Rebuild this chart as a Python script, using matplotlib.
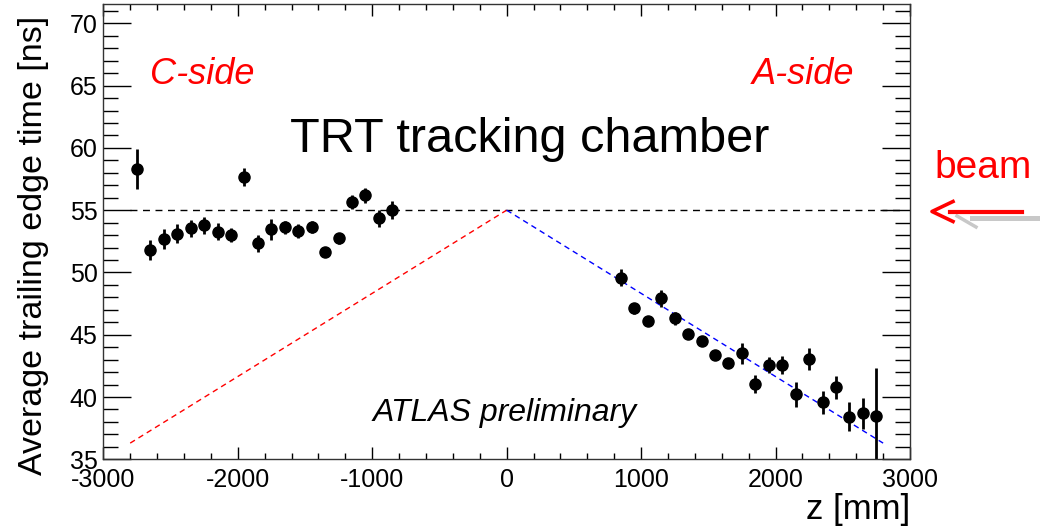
import matplotlib.pyplot as plt
from matplotlib.lines import Line2D
from matplotlib.ticker import MultipleLocator

plt.rcParams['font.family'] = ['Liberation Sans', 'DejaVu Sans']
plt.rcParams['axes.unicode_minus'] = False

# C-side points
z_c = [-2750, -2650, -2550, -2450, -2350, -2250, -2150, -2050, -1950, -1850,
       -1750, -1650, -1550, -1450, -1350, -1250, -1150, -1050, -950, -850]
t_c = [58.30, 51.80, 52.69, 53.09, 53.54, 53.78, 53.27, 53.00, 57.64, 52.34,
       53.46, 53.62, 53.35, 53.65, 51.62, 52.74, 55.66, 56.19, 54.35, 55.01]
e_c = [1.60, 0.78, 0.83, 0.76, 0.70, 0.67, 0.67, 0.55, 0.74, 0.70,
       0.86, 0.55, 0.55, 0.45, 0.40, 0.43, 0.55, 0.60, 0.67, 0.75]

# A-side points
z_a = [850, 950, 1050, 1150, 1250, 1350, 1450, 1550, 1650, 1750,
       1850, 1950, 2050, 2150, 2250, 2350, 2450, 2550, 2650, 2750]
t_a = [49.58, 47.12, 46.10, 47.92, 46.32, 45.06, 44.50, 43.40, 42.76, 43.51,
       41.02, 42.57, 42.57, 40.22, 43.05, 39.58, 40.78, 38.42, 38.69, 38.50]
e_a = [0.67, 0.45, 0.35, 0.67, 0.53, 0.40, 0.40, 0.40, 0.40, 0.83,
       0.71, 0.67, 0.76, 1.00, 0.90, 0.92, 0.90, 1.18, 1.23, 3.80]

# reference lines
flat_z = [-2800, 2960]
flat_t = [55, 55]
c_line_z = [-2800, 0]
c_line_t = [36.3, 55]
a_line_z = [0, 2800]
a_line_t = [55, 36.3]

W, H = 1040, 527
fig = plt.figure(figsize=(W / 100, H / 100), dpi=100)
ax = fig.add_axes([103.3 / W, 1 - 459.3 / H, (910 - 103.3) / W, (459.3 - 4) / H])


def fx(px):
    return px / W


def fy(py):
    return 1 - py / H


ax.plot(flat_z, flat_t, color='black', lw=1, ls=(0, (5, 4)))
ax.plot(c_line_z, c_line_t, color='red', lw=1, ls=(0, (4, 3)))
ax.plot(a_line_z, a_line_t, color='blue', lw=1, ls=(0, (4, 3)))

for z, t, e in [(z_c, t_c, e_c), (z_a, t_a, e_a)]:
    ax.errorbar(z, t, yerr=e, fmt='o', color='black', ms=8,
                elinewidth=2, capsize=0)

ax.set_xlim(-3000, 3000)
ax.set_ylim(35, 71.55)
ax.xaxis.set_major_locator(MultipleLocator(1000))
ax.xaxis.set_minor_locator(MultipleLocator(200))
ax.yaxis.set_major_locator(MultipleLocator(5))
ax.yaxis.set_minor_locator(MultipleLocator(1))
ax.tick_params(which='both', direction='in', top=True, right=True,
               labelsize=18, width=1)
ax.tick_params(axis='x', which='major', length=8.6, pad=6)
ax.tick_params(axis='x', which='minor', length=4.3)
ax.tick_params(axis='y', which='major', length=20, pad=4)
ax.tick_params(axis='y', which='minor', length=10.8)
for s in ax.spines.values():
    s.set_linewidth(1)
    s.set_color('#333333')

fig.text(fx(34), fy(245), 'Average trailing edge time [ns]', rotation=90,
         ha='center', va='center', fontsize=24.5)
fig.text(fx(910), fy(510), 'z [mm]', ha='right', va='center', fontsize=25)

fig.text(fx(150), fy(84), 'C-side', color='red', style='italic',
         fontsize=26, ha='left', va='baseline')
fig.text(fx(752), fy(84), 'A-side', color='red', style='italic',
         fontsize=26, ha='left', va='baseline')
fig.text(fx(530), fy(152), 'TRT tracking chamber', fontsize=35,
         ha='center', va='baseline')
fig.text(fx(505), fy(421), 'ATLAS preliminary', style='italic',
         fontsize=23, ha='center', va='baseline')
fig.text(fx(983), fy(178), 'beam', color='red', fontsize=28,
         ha='center', va='baseline')

# beam arrow with grey shadow
grey = '#c8c8c8'
fig.add_artist(Line2D([fx(972), fx(1040)], [fy(217.5), fy(217.5)],
                      color=grey, lw=3.6, transform=fig.transFigure))
fig.add_artist(Line2D([fx(957), fx(976)], [fy(216), fy(227)],
                      color=grey, lw=2.5, transform=fig.transFigure))
fig.add_artist(Line2D([fx(950), fx(1022)], [fy(211.5), fy(211.5)],
                      color='red', lw=3, transform=fig.transFigure))
fig.add_artist(Line2D([fx(953), fx(932), fx(953)],
                      [fy(201.5), fy(211.5), fy(221.5)],
                      color='red', lw=2.6, transform=fig.transFigure))

fig.savefig('out.png', dpi=100)
